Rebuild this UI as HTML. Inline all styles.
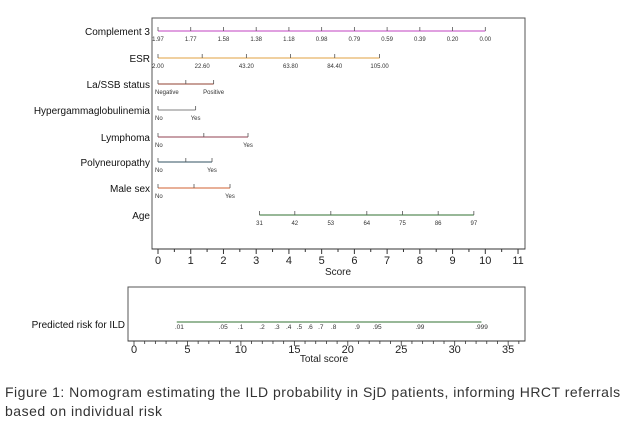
<!DOCTYPE html>
<html><head><meta charset="utf-8"><style>
body{margin:0;background:#fff;width:638px;height:428px;overflow:hidden;font-family:"Liberation Sans",sans-serif}
.cap{position:absolute;left:5px;top:383px;font-size:14px;line-height:19px;color:#333;width:632px;letter-spacing:0.5px}
</style></head><body>
<svg id="c" width="638" height="380" style="position:absolute;left:0;top:0" font-family="Liberation Sans, sans-serif"></svg>
<div class="cap">Figure 1: Nomogram estimating the ILD probability in SjD patients, informing HRCT referrals based on individual risk</div>
<script>
const varNames=["Complement 3","ESR","La/SSB status","Hypergammaglobulinemia","Lymphoma","Polyneuropathy","Male sex","Age"];
const varColors=["#c040c0","#e0a040","#904030","#808080","#904050","#305060","#d06030","#307030"];
const varTickPts=[[0,1,2,3,4,5,6,7,8,9,10],[0,1.35,2.7,4.05,5.4,6.77],[0,0.85,1.7],[0,1.15],[0,1.4,2.75],[0,0.85,1.65],[0,1.1,2.2],[3.1,4.18,5.28,6.38,7.47,8.56,9.65]];
const varTickLabels=[["1.97","1.77","1.58","1.38","1.18","0.98","0.79","0.59","0.39","0.20","0.00"],["2.00","22.60","43.20","63.80","84.40","105.00"],["Negative","","Positive"],["No","Yes"],["No","","Yes"],["No","","Yes"],["No","","Yes"],["31","42","53","64","75","86","97"]];
const scoreTicks=[0,1,2,3,4,5,6,7,8,9,10,11];
const riskLabels=[".01",".05",".1",".2",".3",".4",".5",".6",".7",".8",".9",".95",".99",".999"];
const riskScores=[4.1,8.2,10.0,12.0,13.4,14.5,15.5,16.5,17.5,18.7,20.9,22.6,26.6,32.2];
const riskRange=[4.0,32.5];
const totalTicks=[0,5,10,15,20,25,30,35];
const svg=document.getElementById('c');const NS='http://www.w3.org/2000/svg';
function el(t,a,txt){const e=document.createElementNS(NS,t);for(const k in a)e.setAttribute(k,a[k]);if(txt!==undefined)e.textContent=txt;svg.appendChild(e);return e;}
const x1=v=>158+v*32.73;const x2=v=>134+v*10.69;
const rows=[31,58,84,110,137,162,188,215];
let b=el('rect',{x:152,y:18,width:373,height:231,fill:'none',stroke:'#555','stroke-width':1});


b=el('rect',{x:128,y:287,width:397,height:54,fill:'none',stroke:'#555','stroke-width':1});


varNames.forEach((n,i)=>{const y=rows[i];
let t=el('text',{x:150,y:y+4,'font-size':10,'text-anchor':'end',fill:'#111'},n);


const p=varTickPts[i];
let l=el('line',{x1:x1(p[0]),x2:x1(p[p.length-1]),y1:y,y2:y,stroke:varColors[i],'stroke-width':1});


p.forEach((v,j)=>{el('line',{x1:x1(v),x2:x1(v),y1:y-4,y2:y,stroke:'#555','stroke-width':0.8});
if(varTickLabels[i][j]){let anchor=(i>=2&&i<=6)?(j==0?'start':'middle'):'middle';let xx=x1(v)+(anchor=='start'?-3:0);
let tl=el('text',{x:xx,y:y+10,'font-size':6,'text-anchor':anchor,fill:'#333'},varTickLabels[i][j]);

}});});
let a=el('line',{x1:152,x2:525,y1:249,y2:249,stroke:'#333','stroke-width':1});


scoreTicks.forEach(v=>{el('line',{x1:x1(v),x2:x1(v),y1:249,y2:254,stroke:'#333'});
if(v<11)el('line',{x1:x1(v+0.5),x2:x1(v+0.5),y1:249,y2:252,stroke:'#333'});
let t=el('text',{x:x1(v),y:264,'font-size':11,'text-anchor':'middle',fill:'#222'},v);

});
a=el('text',{x:338,y:275,'font-size':10,'text-anchor':'middle',fill:'#222'},'Score');


a=el('text',{x:125,y:328,'font-size':10,'text-anchor':'end',fill:'#111'},'Predicted risk for ILD');


a=el('line',{x1:x2(riskRange[0]),x2:x2(riskRange[1]),y1:322,y2:322,stroke:'#307030','stroke-width':1});


riskScores.forEach((s,i)=>{let t=el('text',{x:x2(s)-3,y:329,'font-size':6.5,fill:'#333'},riskLabels[i]);

});
a=el('line',{x1:128,x2:525,y1:341,y2:341,stroke:'#333','stroke-width':1});


for(let v=0;v<=36;v++)el('line',{x1:x2(v),x2:x2(v),y1:341,y2:v%5==0?346:344,stroke:'#333','stroke-width':0.8});
totalTicks.forEach(v=>{let t=el('text',{x:x2(v),y:353,'font-size':11,'text-anchor':'middle',fill:'#222'},v);

});
a=el('text',{x:324,y:362,'font-size':10,'text-anchor':'middle',fill:'#222'},'Total score');


</script>
</body></html>
